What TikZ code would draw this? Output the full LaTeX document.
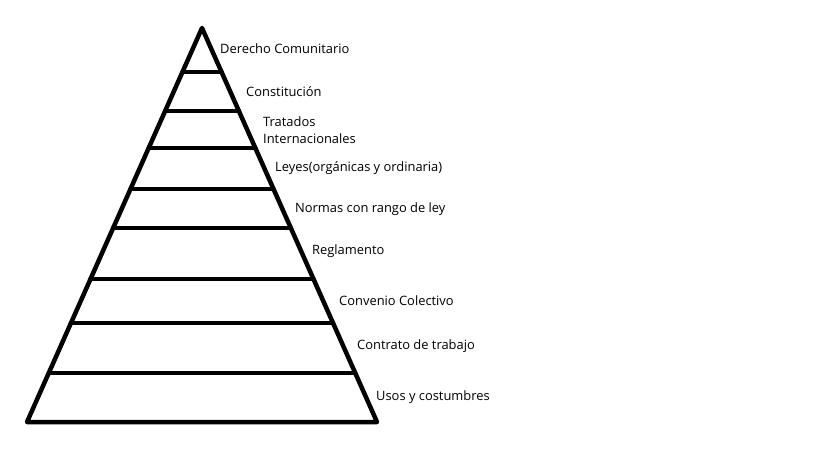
\documentclass[tikz,border=0pt]{standalone}
\usepackage{fontspec}
\setmainfont{Open Sans}
\usetikzlibrary{calc}
\tikzset{
    stroke/.style={line width=4.5pt, line cap=round, line join=round},
    nivel/.style={anchor=west, inner sep=0pt, font=\fontsize{12.9}{17}\selectfont, align=left}
}
\begin{document}
\begin{tikzpicture}[x=1pt,y=-1pt]
        \useasboundingbox (0,0) rectangle (819,460);
        %% Pyramid
        \coordinate (top) at (202,28);
        \coordinate (bl) at (27,422);
        \coordinate (br) at (377,422);
        \draw[stroke] (top) -- (bl) -- (br) -- cycle;
        %% Levels
        \foreach \y in {72,111,148,189,228,279,323,373} {
            \draw[stroke] ($(top)!{(\y-28)/394}!(bl)$) -- ($(top)!{(\y-28)/394}!(br)$);
        }
        %% Labels
        \node[nivel] (dc) at (220,49) {Derecho Comunitario};
        \node[nivel] (co) at (246,92) {Constitución};
        \node[nivel] (ti) at (263,130) {Tratados\\Internacionales};
        \node[nivel] (le) at (275,168) {Leyes(orgánicas y ordinaria)};
        \node[nivel] (nr) at (295,209) {Normas con rango de ley};
        \node[nivel] (re) at (312,251) {Reglamento};
        \node[nivel] (cc) at (339,301) {Convenio Colectivo};
        \node[nivel] (ct) at (357,346) {Contrato de trabajo};
        \node[nivel] (uc) at (376,397) {Usos y costumbres};
    \end{tikzpicture}
\end{document}
